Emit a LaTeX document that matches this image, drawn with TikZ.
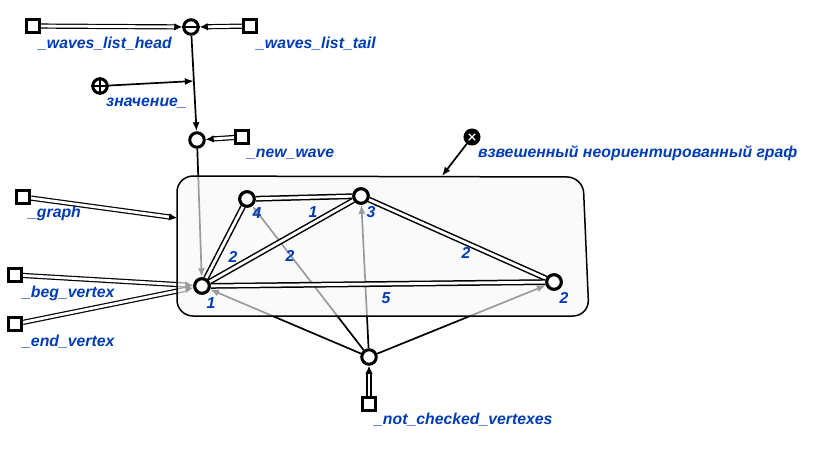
\documentclass[tikz,border=0pt]{standalone}
\usepackage{fontspec}
\setmainfont{Liberation Sans}
\usetikzlibrary{arrows.meta,calc}
\pgfdeclarelayer{back}
\pgfdeclarelayer{mid}
\pgfsetlayers{back,mid,main}
\definecolor{lbl}{RGB}{0,60,180}
\begin{document}
\begin{tikzpicture}[x=1pt,y=-1pt,
  lab/.style={text=lbl,font=\fontsize{15.8}{19}\selectfont\bfseries\itshape,inner sep=0pt,anchor=base west},
  num/.style={text=lbl,font=\fontsize{15.8}{19}\selectfont\bfseries\itshape,inner sep=0pt},
  vtx/.style={circle,draw,line width=3pt,minimum size=14.5pt,inner sep=0pt,fill=white},
  sq/.style={rectangle,draw,line width=3pt,minimum size=13pt,inner sep=0pt,fill=white},
  dbl/.style={draw,double=white,double distance=2.8pt,line width=1.2pt,-{Latex[length=8pt,width=7.5pt]}},
  gedge/.style={draw,double=white,double distance=2.8pt,line width=1.5pt},
  arr/.style={draw,line width=1.7pt,-{Latex[length=9pt,width=7pt]}}]
\useasboundingbox (0,0) rectangle (817,464);

% nodes
\node[sq]  (head) at (33,26) {};
\node[vtx] (list) at (191,27) {};
\node[sq]  (tail) at (250,26) {};
\node[vtx] (zn)   at (100,86) {};
\node[vtx] (nw)   at (197,140) {};
\node[sq]  (nws)  at (242,137) {};
\node[sq]  (gsq)  at (23,197) {};
\node[sq]  (beg)  at (15,275) {};
\node[sq]  (endv) at (15,324) {};
\node[vtx] (bot)  at (369,357) {};
\node[sq]  (bsq)  at (369,404) {};
\node[circle,fill=black,draw,line width=1pt,minimum size=16pt,inner sep=0pt] (wg) at (472,137) {};

\node[vtx] (v1) at (202,286) {};
\node[vtx] (v4) at (247,199) {};
\node[vtx] (v3) at (361,196) {};
\node[vtx] (v2) at (554,282) {};

% symbols inside circles
\draw[line width=2pt] (list.west) -- (list.east);
\draw[line width=2pt] (zn.west) -- (zn.east) (zn.north) -- (zn.south);
\draw[white,line width=1.1pt] ($(wg)+(-3.2,-3.2)$) -- ($(wg)+(3.2,3.2)$) ($(wg)+(-3.2,3.2)$) -- ($(wg)+(3.2,-3.2)$);

% box
\coordinate (boxtop) at (442,176);
\coordinate (boxleft) at (177,218);
\begin{pgfonlayer}{mid}
\draw[line width=1.5pt,fill=black!3,fill opacity=0.63,rounded corners=16pt]
  (177,176) -- (583,177) -- (589,316) -- (177,316) -- cycle;
\end{pgfonlayer}

% connectors behind the box
\begin{pgfonlayer}{back}
\draw[arr] (nw) -- (v1);
\draw[dbl] (beg) -- (v1);
\draw[dbl] (endv) -- (v1);
\draw[arr] (bot) -- (v1);
\draw[arr] (bot) -- (v4);
\draw[arr] (bot) -- (v3);
\draw[arr] (bot) -- (v2);
\end{pgfonlayer}

% graph edges
\draw[gedge] (v1) -- (v4);
\draw[gedge] (v4) -- (v3);
\draw[gedge] (v1) -- (v3);
\draw[gedge] (v3) -- (v2);
\draw[gedge] (v1) -- (v2);
\node[vtx] at (v1) {};
\node[vtx] at (v4) {};
\node[vtx] at (v3) {};
\node[vtx] at (v2) {};

% other connectors
\draw[dbl] (head) -- (list);
\draw[dbl] (tail) -- (list);
\draw[arr] (list) -- (nw);
\coordinate (jn) at ($(list)!(zn)!(nw)$);
\draw[arr] (zn) -- (jn);
\draw[dbl] (nws) -- (nw);
\draw[dbl] (gsq) -- (boxleft);
\draw[dbl] (bsq) -- (bot);
\draw[arr] (wg) -- (boxtop);

% labels
\node[lab] (lhead) at (38,48) {\_waves\_list\_head};
\node[lab] (ltail) at (256,48) {\_waves\_list\_tail};
\node[lab] (lzn) at (106,106) {значение\_};
\node[lab] (lnw) at (247,157) {\_new\_wave};
\node[lab] (lg) at (28,217) {\_graph};
\node[lab] (lbeg) at (22,297) {\_beg\_vertex};
\node[lab] (lend) at (22,346) {\_end\_vertex};
\node[lab] (lbot) at (374,424) {\_not\_checked\_vertexes};
\node[lab] (lwg) at (478,157) {взвешенный неориентированный граф};

\node[num] (n1) at (211,303) {1};
\node[num] (n4) at (257,213) {4};
\node[num] (n3) at (371,212) {3};
\node[num] (n2) at (564,298) {2};
\node[num] (w43) at (313,212) {1};
\node[num] (w14) at (233,257) {2};
\node[num] (w13) at (290,256) {2};
\node[num] (w32) at (466,253) {2};
\node[num] (w12) at (386,298) {5};
\end{tikzpicture}
\end{document}
